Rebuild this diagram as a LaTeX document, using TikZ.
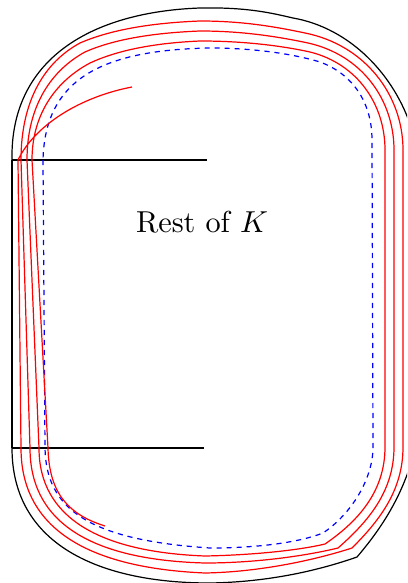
\documentclass[tikz,border=0pt]{standalone}
\usepackage{amsmath}
\begin{document}
\begin{tikzpicture}[
    x=0.33pt, y=-0.33pt,
    edge/.style={draw=black, line width=0.4pt},
    sweep/.style={draw=red, line width=0.4pt},
    shrunk/.style={draw=blue, line width=0.4pt, dash pattern=on 1.7pt off 1.6pt},
]
    % --- Frame ---
    \clip (0,0) rectangle (407,583);

    % --- Boundary of K ---
    \draw[edge] (12,160) .. controls (10,60) and (90,12) .. (200,8)
        .. controls (250,7) and (275,14) .. (293,18)
        .. controls (350,28) and (395,75) .. (412,130);
    \draw[edge] (12,448) .. controls (12,545) and (100,583) .. (210,583)
        .. controls (270,582) and (320,570) .. (357,557)
        .. controls (380,530) and (400,500) .. (412,460);
    \draw[edge] (12,160) -- (12,448);
    \draw[edge] (12,160) -- (207,160);
    \draw[edge] (12,448) -- (204,448);

    % --- Shrunken copy ---
    \draw[shrunk] (43,160) -- (45,448)
        .. controls (46,510) and (90,540) .. (210,548)
        .. controls (260,548) and (300,542) .. (323,533)
        .. controls (350,515) and (373,480) .. (373,447)
        -- (372,140)
        .. controls (372,105) and (355,75) .. (320,62)
        .. controls (290,53) and (250,48) .. (210,48)
        .. controls (100,50) and (45,80) .. (43,160) -- cycle;

    % --- Winding curve (three turns) ---
    \draw[sweep] (132,87) .. controls (80,97) and (35,125) .. (18,160)
        -- (21,448)
        % outer turn
        .. controls (21,530) and (90,568) .. (205,573)
        .. controls (260,572) and (315,560) .. (352,548)
        .. controls (380,520) and (403,490) .. (403,447)
        -- (403,150)
        .. controls (403,95) and (365,45) .. (305,33)
        .. controls (272,26) and (240,21) .. (200,21)
        .. controls (150,23) and (110,30) .. (80,43)
        .. controls (45,62) and (21,100) .. (21,160)
        -- (30,448)
        % middle turn
        .. controls (30,525) and (95,560) .. (205,563)
        .. controls (255,563) and (305,556) .. (338,548)
        .. controls (370,520) and (394,490) .. (394,447)
        -- (394,150)
        .. controls (394,100) and (362,55) .. (308,43)
        .. controls (275,36) and (240,31) .. (200,31)
        .. controls (150,33) and (112,40) .. (85,52)
        .. controls (52,70) and (27,105) .. (27,160)
        -- (39,448)
        % inner turn
        .. controls (39,518) and (100,552) .. (205,556)
        .. controls (255,555) and (300,550) .. (325,544)
        .. controls (360,520) and (385,490) .. (385,447)
        -- (385,150)
        .. controls (385,105) and (358,64) .. (310,52)
        .. controls (278,45) and (240,41) .. (200,41)
        .. controls (155,43) and (118,50) .. (90,63)
        .. controls (58,80) and (32,112) .. (32,160)
        -- (48,448)
        .. controls (49,495) and (70,515) .. (105,526);

    % --- Label ---
    \node (rest) at (202,222) {Rest of $K$};
\end{tikzpicture}
\end{document}
